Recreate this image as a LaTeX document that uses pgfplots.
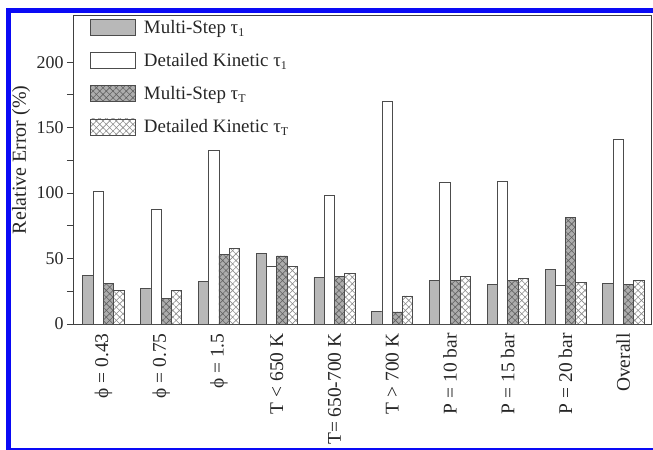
\documentclass[border=0pt]{standalone}
\usepackage{fontspec}
\setmainfont{Liberation Serif}
\usepackage{pgfplots}
\pgfplotsset{compat=1.18}
\usepackage{pgfplotstable}
\usetikzlibrary{patterns.meta}

\definecolor{barg}{gray}{0.72}
\definecolor{edge}{gray}{0.3}
\definecolor{hatchbg}{gray}{0.68}
\definecolor{hatchdk}{gray}{0.38}
\definecolor{hatchlt}{gray}{0.55}
\definecolor{frameblue}{RGB}{10,10,245}

\pgfplotsset{barleg/.style={legend image code/.code={\draw[##1] (0bp,-8bp) rectangle (45bp,8bp);}}}

\pgfplotstableread{
x a b c d
0 37.0 101.0 31.0 25.3
1 27.3 87.8 19.4 25.3
2 32.4 132.5 52.8 58.0
3 53.8 44.2 52.0 44.2
4 35.7 98.5 36.2 38.8
5 9.7 170.0 9.2 21.4
6 33.4 108.2 33.4 36.0
7 30.4 108.7 33.2 35.0
8 41.8 29.1 81.2 31.7
9 31.1 141.0 30.1 33.2
}\datatable

\begin{document}
\begin{tikzpicture}
\path[use as bounding box] (-73bp,-126bp) rectangle (580bp,324bp);
\begin{axis}[
  at={(0,0)}, anchor=south west, scale only axis,
  width=578bp, height=309bp,
  xmin=-0.527, xmax=9.479, ymin=0, ymax=236,
  axis line style={draw=black!75, line width=0.8bp},
  ytick={0,50,100,150,200}, minor y tick num=1,
  ytick pos=left, tick align=outside,
  major tick length=6bp, minor tick length=6bp,
  every tick/.style={black!75, line width=0.8bp},
  xtick={0,...,9},
  xticklabels={ϕ = 0.43, ϕ = 0.75, ϕ = 1.5, T < 650 K, T= 650-700 K, T > 700 K, P = 10 bar, P = 15 bar, P = 20 bar, Overall},
  xtick style={draw=none},
  x tick label style={rotate=90, anchor=east, font=\fontsize{19.5}{20}\selectfont, text=black!85},
  y tick label style={font=\fontsize{18}{20}\selectfont, text=black!85},
  /pgf/number format/assume math mode=true,
  ylabel={Relative Error (\%)},
  every axis y label/.style={at={(rel axis cs:0,0.531)}, xshift=-52bp, rotate=90, anchor=center, font=\fontsize{20}{22}\selectfont, text=black!85},
  legend style={draw=none, fill=none, at={(rel axis cs:0.0294,0.99)}, anchor=north west,
    font=\fontsize{19}{20}\selectfont, text=black!85, row sep=14.5bp, column sep=6bp, inner sep=0pt, nodes={inner sep=2bp}},
  legend cell align=left,
]
\addplot[ybar, bar width=0.178, bar shift=-0.267, fill=barg, draw=edge, line width=0.8bp, barleg]
  table[x=x,y=a]{\datatable};
\addlegendentry{Multi-Step τ\textsubscript{\fontsize{12}{12}\selectfont 1}}
\addplot[ybar, bar width=0.178, bar shift=-0.089, fill=white, draw=edge, line width=0.8bp, barleg]
  table[x=x,y=b]{\datatable};
\addlegendentry{Detailed Kinetic τ\textsubscript{\fontsize{12}{12}\selectfont 1}}
\addplot[ybar, bar width=0.178, bar shift=0.089, fill=hatchbg, draw=edge, line width=0.8bp,
  postaction={pattern={Hatch[angle=45,distance=4.7bp,line width=0.6bp]}, pattern color=hatchdk}, barleg]
  table[x=x,y=c]{\datatable};
\addlegendentry{Multi-Step τ\textsubscript{\fontsize{12}{12}\selectfont T}}
\addplot[ybar, bar width=0.178, bar shift=0.267, fill=white, draw=edge, line width=0.8bp,
  postaction={pattern={Hatch[angle=45,distance=4.7bp,line width=0.6bp]}, pattern color=hatchlt}, barleg]
  table[x=x,y=d]{\datatable};
\addlegendentry{Detailed Kinetic τ\textsubscript{\fontsize{12}{12}\selectfont T}}
\end{axis}
\fill[frameblue] (-67bp,310.7bp) rectangle (580bp,316bp);
\fill[frameblue] (-67bp,-126bp) rectangle (-62bp,316bp);
\fill[frameblue] (-67bp,-125.7bp) rectangle (580bp,-123.5bp);
\end{tikzpicture}
\end{document}
